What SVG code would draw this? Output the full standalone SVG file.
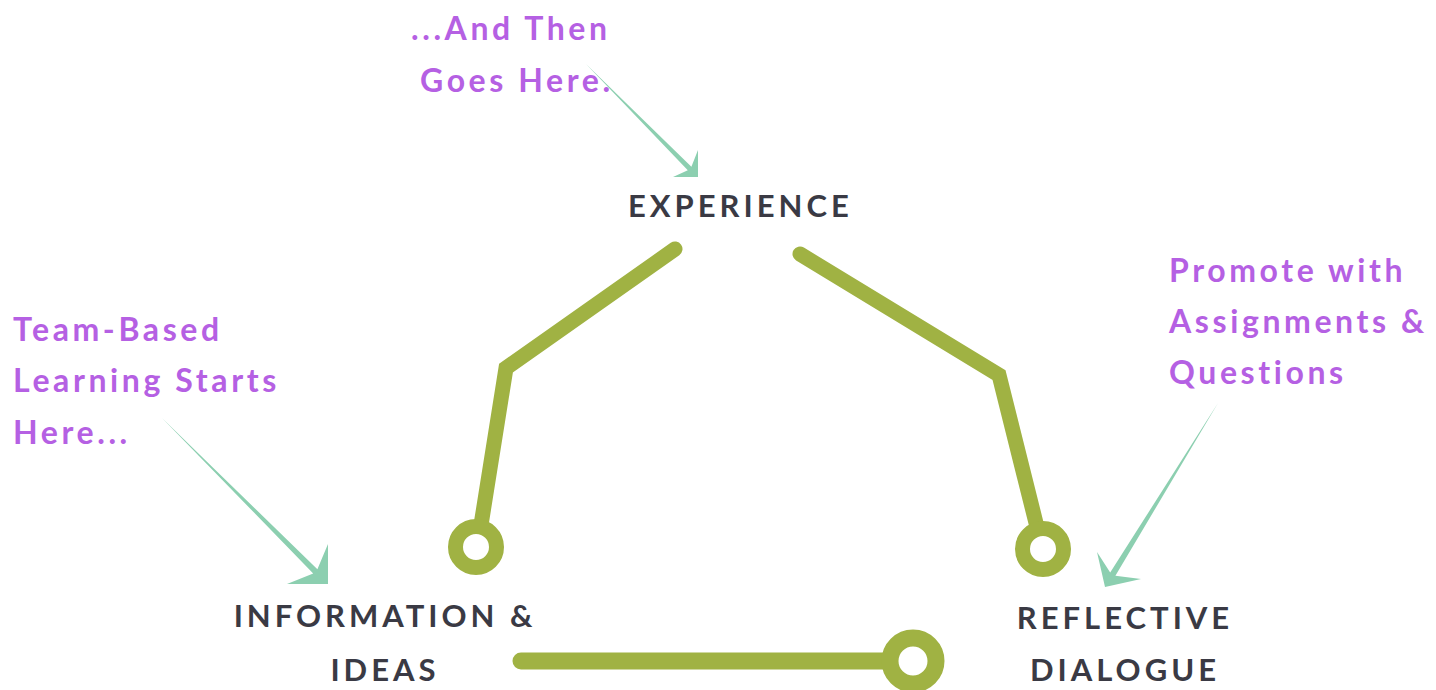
<svg xmlns="http://www.w3.org/2000/svg" width="1436" height="690" viewBox="0 0 1436 690">
<style>
.lbl{font-family:Lato,"Liberation Sans",sans-serif;font-weight:700;font-size:31px;letter-spacing:4px;fill:#3a3a44}
.note{font-family:Lato,"Liberation Sans",sans-serif;font-weight:700;font-size:32px;letter-spacing:3.6px;fill:#b560e3}
.line{fill:none;stroke:#a0b243;stroke-width:15;stroke-linecap:round;stroke-linejoin:miter}
.ring{fill:#fff;stroke:#a0b243;stroke-width:15}
.arr{fill:#8ccfb0}
</style>
<rect width="1436" height="690" fill="#fff"/>
<g id="connectors">
<polyline class="line" points="675,249 506,368 481,525"/>
<polyline class="line" points="800,254 999,375 1037,527"/>
<line class="line" x1="521" y1="661" x2="895" y2="661" style="stroke-width:17"/>
<path class="arr" d="M586,64 L691.4,166.7 L698,150 L698,177 L673,177 L687.8,170.3 Z"/>
<path class="arr" d="M162,418 L317.4,569.2 L328,544 L328,584 L287,584 L313.2,573.4 Z"/>
<path class="arr" d="M1218,403 L1110.2,572.6 L1097,552 L1105,587 L1141,579 L1115.4,575.8 Z"/>
</g>
<g id="ring-info"><circle class="ring" cx="476" cy="547" r="20.5"/></g>
<g id="ring-reflective"><circle class="ring" cx="1043" cy="549" r="20.5"/></g>
<g id="ring-bottom"><circle class="ring" cx="913" cy="661" r="23" style="stroke-width:17"/></g>
<g id="experience"><text class="lbl" x="628" y="217">EXPERIENCE</text></g>
<g id="information"><text class="lbl" x="385" y="627" text-anchor="middle">INFORMATION &amp;</text><text class="lbl" x="385" y="681" text-anchor="middle">IDEAS</text></g>
<g id="reflective"><text class="lbl" x="1125" y="629" text-anchor="middle">REFLECTIVE</text><text class="lbl" x="1125" y="681" text-anchor="middle">DIALOGUE</text></g>
<g id="note-top"><text class="note" x="411" y="40">...And Then</text><text class="note" x="420" y="92">Goes Here.</text></g>
<g id="note-left"><text class="note" x="13" y="341">Team-Based</text><text class="note" x="13" y="392">Learning Starts</text><text class="note" x="13" y="444">Here...</text></g>
<g id="note-right"><text class="note" x="1169" y="282">Promote with</text><text class="note" x="1169" y="333">Assignments &amp;</text><text class="note" x="1169" y="384">Questions</text></g>
</svg>
